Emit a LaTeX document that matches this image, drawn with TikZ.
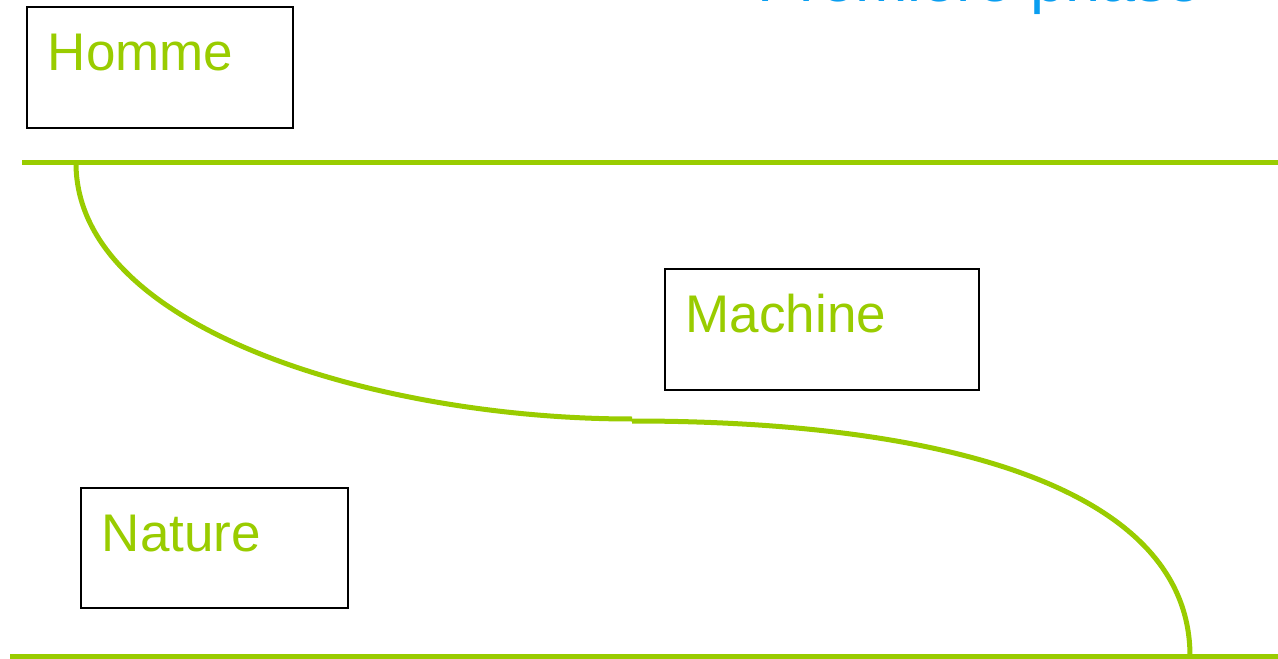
\documentclass[tikz,border=0pt]{standalone}
\usepackage{fontspec}
\setmainfont{Liberation Sans}
\definecolor{leafgreen}{HTML}{99CC00}
\definecolor{titleblue}{HTML}{0A9EF0}
\tikzset{
  box/.style={draw=black, line width=1.6bp, anchor=north west, inner sep=0pt,
    inner xsep=21bp, align=left, text=leafgreen, text height=64bp, text depth=57bp,
    font=\fontsize{53bp}{60bp}\selectfont},
  band/.style={draw=leafgreen, line width=5bp},
}
\begin{document}
\begin{tikzpicture}[x=1bp, y=-1bp]
\useasboundingbox (0,0) rectangle (1278,659);
% title, cut by the page top
\node[anchor=base west, inner sep=0pt, text=titleblue, font=\fontsize{63bp}{70bp}\selectfont] (title) at (757,2) {Première phase};
% boxes
\node[box, text width=224bp] (homme) at (26,6) {Homme};
\node[box, text width=272bp] (machine) at (664,268) {Machine};
\node[box, text width=225bp, text depth=56bp] (nature) at (80,487) {Nature};
% horizontal bands
\coordinate (topleft) at (22,163);
\coordinate (topright) at (1278,163);
\coordinate (botleft) at (10,656);
\coordinate (botright) at (1278,656);
\draw[band] (topleft) -- (topright);
\draw[band] (botleft) -- (botright);
% the curve between them
\coordinate (start) at (76,163);
\coordinate (midA) at (632,419);
\coordinate (midB) at (632,421);
\coordinate (stop) at (1190,656);
\draw[band] (start) .. controls (76,330) and (380,419) .. (midA);
\draw[band] (midB) .. controls (950,421) and (1190,490) .. (stop);
\end{tikzpicture}
\end{document}
